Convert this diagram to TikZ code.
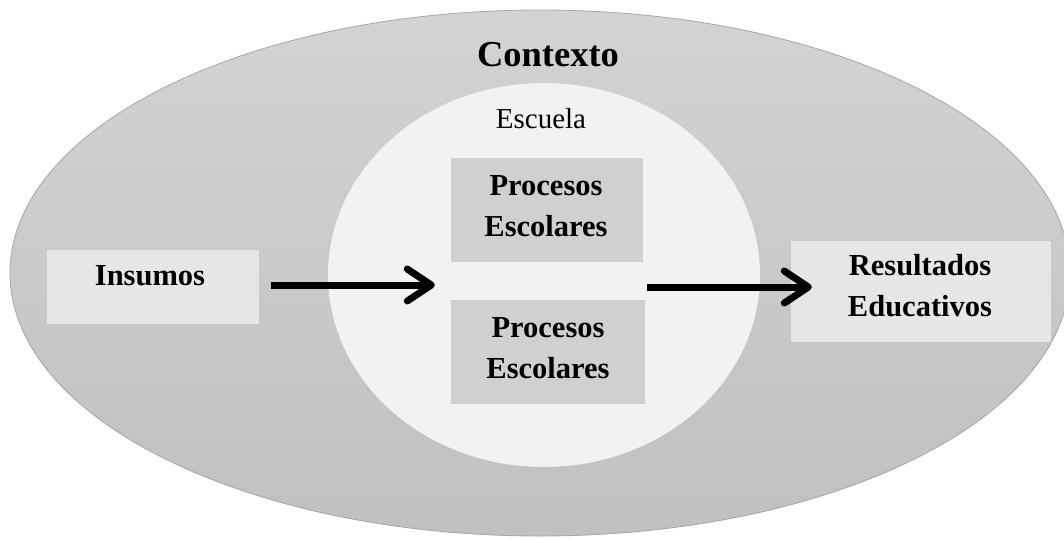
\documentclass[tikz,border=0pt]{standalone}
\usepackage{fontspec}
\setmainfont{Liberation Serif}
\usetikzlibrary{arrows.meta,shapes.geometric}
\definecolor{ctxtop}{HTML}{D3D3D3}
\definecolor{ctxbot}{HTML}{C0C0C0}
\definecolor{ctxline}{HTML}{A6A6A6}
\definecolor{schoolfill}{HTML}{F2F2F2}
\definecolor{lightbox}{HTML}{E6E6E6}
\definecolor{procbox}{HTML}{D1CFCF}
\begin{document}
\begin{tikzpicture}[x=1pt,y=-1pt,
  boxtext/.style={font=\fontsize{30.5}{41}\selectfont\bfseries, align=center, inner sep=0pt},
  plainbox/.style={fill=lightbox, draw=none, inner sep=0pt},
  procfill/.style={fill=procbox, draw=none, inner sep=0pt},
  arr/.style={line width=7pt, -{Straight Barb[length=24pt,width=32pt,round]}}]
\useasboundingbox (0,0) rectangle (1064,538);
% context ellipse
\node[ellipse, inner sep=0pt, minimum width=1060pt, minimum height=526pt,
      top color=ctxtop, bottom color=ctxbot, draw=ctxline, line width=0.8pt] (ctx) at (540,273) {};
% school ellipse
\node[ellipse, inner sep=0pt, minimum width=432pt, minimum height=384pt,
      fill=schoolfill, draw=none] (school) at (544,275) {};
% labels
\node[font=\fontsize{36.5}{40}\selectfont\bfseries, anchor=base, inner sep=0pt] (ctxlabel) at (548,66) {Contexto};
\node[font=\fontsize{29}{34}\selectfont, anchor=base, inner sep=0pt] (schoollabel) at (541,128) {Escuela};
% boxes
\node[plainbox, minimum width=212pt, minimum height=74pt] (ins) at (153,287) {};
\node[procfill, minimum width=192pt, minimum height=104pt] (proc1) at (547,210) {};
\node[procfill, minimum width=194pt, minimum height=104pt] (proc2) at (548,352) {};
\node[plainbox, minimum width=260pt, minimum height=101pt] (res) at (921,291.5) {};
% texts
\node[boxtext, anchor=base] (inst) at (150,285) {Insumos};
\node[boxtext] (proc1t) at (546,206.5) {Procesos\\Escolares};
\node[boxtext] (proc2t) at (548,348.5) {Procesos\\Escolares};
\node[boxtext] (rest) at (920,285.5) {Resultados\\Educativos};
% arrows
\draw[arr] ([xshift=12pt,yshift=2pt]ins.east) -- ([xshift=-16pt,yshift=2pt]proc1.west |- ins.east);
\draw[arr] ([xshift=4pt,yshift=4.5pt]proc1.east |- res.west) -- ([xshift=21pt,yshift=4.5pt]res.west);
\end{tikzpicture}
\end{document}
